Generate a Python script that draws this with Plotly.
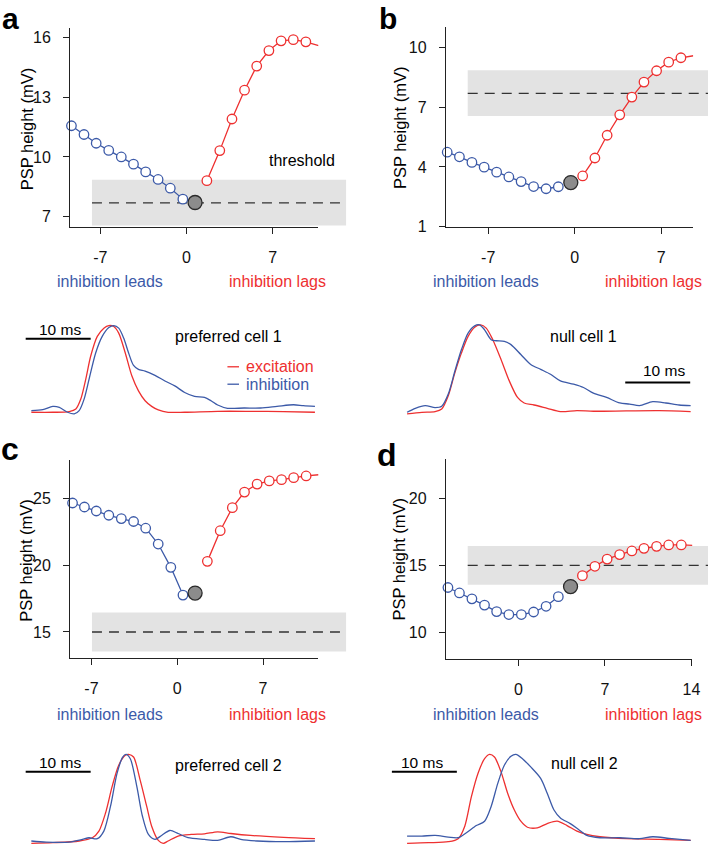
import plotly.graph_objects as go

W, H = 716, 853
def PX(x): return x / W
def PY(y): return 1 - y / H

BLUE = '#3c5aa8'
RED = '#ee3030'
FONT = 'Liberation Sans, Arial, sans-serif'

# ---------------- PSP height data (mV) vs delay (ms) ----------------
a_blue_x = [-9.35, -8.33, -7.34, -6.32, -5.30, -4.31, -3.32, -2.31, -1.32, -0.30]
a_blue_y = [11.57, 11.13, 10.69, 10.33, 10.00, 9.64, 9.25, 8.87, 8.43, 7.88]
a_red_x = [1.65, 2.70, 3.69, 4.71, 5.70, 6.69, 7.68, 8.67, 9.69, 10.73]
a_red_y = [8.81, 10.32, 11.91, 13.36, 14.57, 15.35, 15.84, 15.90, 15.79, 15.60]
a_gray_x, a_gray_y = [0.69], [7.71]

b_blue_x = [-10.32, -9.33, -8.32, -7.33, -6.32, -5.33, -4.34, -3.33, -2.32, -1.33]
b_blue_y = [4.74, 4.51, 4.23, 3.99, 3.74, 3.50, 3.27, 3.02, 2.91, 3.01]
b_red_x = [0.64, 1.63, 2.62, 3.64, 4.62, 5.60, 6.62, 7.60, 8.59, 9.60]
b_red_y = [3.55, 4.45, 5.59, 6.61, 7.50, 8.25, 8.82, 9.25, 9.47, 9.57]
b_gray_x, b_gray_y = [-0.32], [3.22]

c_blue_x = [-8.54, -7.57, -6.60, -5.58, -4.56, -3.56, -2.57, -1.55, -0.52, 0.47]
c_blue_y = [24.68, 24.38, 24.08, 23.76, 23.51, 23.29, 22.79, 21.60, 19.85, 17.77]
c_red_x = [2.46, 3.51, 4.50, 5.49, 6.52, 7.51, 8.51, 9.50, 10.52, 11.54]
c_red_y = [20.30, 22.60, 24.33, 25.50, 26.10, 26.34, 26.43, 26.58, 26.71, 26.80]
c_gray_x, c_gray_y = [1.46], [17.92]

d_blue_x = [-5.70, -4.77, -3.76, -2.74, -1.76, -0.77, 0.24, 1.23, 2.24, 3.23]
d_blue_y = [13.34, 12.93, 12.49, 12.02, 11.53, 11.31, 11.31, 11.50, 11.93, 12.65]
d_red_x = [5.18, 6.19, 7.18, 8.19, 9.18, 10.16, 11.18, 12.16, 13.18, 14.16]
d_red_y = [14.23, 14.93, 15.47, 15.81, 16.08, 16.28, 16.43, 16.53, 16.53, 16.50]
d_gray_x, d_gray_y = [4.22], [13.41]

# thresholds (mV): mean and band
thr_cell1, thr_cell1_lo, thr_cell1_hi = 7.69, 6.55, 8.85
thr_cell2, thr_cell2_lo, thr_cell2_hi = 15.0, 13.54, 16.46

xticks_abc = [-7, 0, 7]
xticks_d = [0, 7, 14]
yticks_a = [7, 10, 13, 16]
yticks_b = [1, 4, 7, 10]
yticks_c = [15, 20, 25]
yticks_d = [10, 15, 20]

# ---------------- normalized conductance traces (time in ms) ----------------
pa_exc_t = [1.78, 5.08, 7.61, 8.63, 9.39, 10.15, 10.91, 11.93, 12.94, 13.71, 14.47, 15.23, 16.24, 17.26,
            18.27, 19.29, 20.30, 21.32, 22.84, 25.38, 30.46, 35.53, 40.61, 45.43]
pa_exc_v = [0, 0, 0.008, 0.038, 0.152, 0.38, 0.646, 0.875, 0.97, 1.0, 0.989, 0.913, 0.684, 0.418,
            0.247, 0.133, 0.068, 0.027, 0, 0, 0.011, 0.011, 0.008, 0]
pa_inh_t = [1.78, 3.55, 5.08, 6.09, 7.36, 8.38, 9.14, 9.90, 10.66, 11.68, 12.69, 13.71, 14.47, 15.23,
            15.99, 16.75, 17.51, 18.27, 19.29, 20.81, 22.34, 23.86, 25.38, 26.90, 28.43, 29.44, 30.46,
            31.98, 34.52, 37.06, 39.59, 42.13, 43.65, 45.43]
pa_inh_v = [0.019, 0.03, 0.068, 0.057, 0, -0.019, 0.019, 0.152, 0.38, 0.684, 0.875, 0.977, 1.0, 0.97,
            0.856, 0.684, 0.54, 0.494, 0.475, 0.426, 0.361, 0.304, 0.228, 0.183, 0.171, 0.133, 0.084,
            0.046, 0.049, 0.049, 0.068, 0.087, 0.076, 0.068]

nb_exc_t = [1.78, 4.06, 6.09, 7.11, 8.12, 9.14, 10.15, 11.17, 12.18, 13.10, 13.96, 14.97, 16.24, 17.51,
            18.78, 19.80, 21.32, 23.35, 25.38, 27.92, 30.46, 35.53, 40.61, 45.43]
nb_exc_v = [-0.027, -0.008, 0, 0.03, 0.183, 0.449, 0.677, 0.867, 0.973, 1.0, 0.962, 0.829, 0.601, 0.354,
            0.163, 0.099, 0.076, 0.038, 0, 0.011, 0.004, 0.008, 0.011, 0]
nb_inh_t = [1.78, 3.05, 4.57, 6.09, 7.11, 8.12, 9.14, 10.15, 11.17, 12.18, 12.94, 13.71, 14.72, 15.48,
            16.75, 17.77, 19.29, 20.81, 22.34, 23.86, 25.38, 27.41, 28.93, 30.46, 32.49, 34.52, 36.04,
            37.56, 39.59, 41.62, 43.65, 45.43]
nb_inh_v = [-0.008, 0.038, 0.068, 0.046, 0.061, 0.202, 0.468, 0.715, 0.905, 0.989, 1.0, 0.943, 0.829,
            0.817, 0.81, 0.772, 0.658, 0.544, 0.487, 0.43, 0.354, 0.316, 0.278, 0.213, 0.163, 0.099,
            0.087, 0.068, 0.114, 0.099, 0.076, 0.068]

pc_exc_t = [1.78, 5.08, 9.14, 11.17, 12.18, 13.20, 14.21, 15.23, 16.24, 16.75, 17.51, 18.53, 19.54, 20.30,
            21.32, 22.08, 22.84, 24.37, 26.40, 28.43, 30.46, 32.49, 35.53, 40.61, 45.43]
pc_exc_v = [-0.007, 0, 0.019, 0.056, 0.131, 0.336, 0.634, 0.877, 0.989, 1.0, 0.97, 0.709, 0.41, 0.187,
            0.026, -0.007, 0.019, 0.075, 0.093, 0.1, 0.123, 0.104, 0.082, 0.06, 0.045]
pc_inh_t = [1.78, 4.06, 7.61, 9.64, 10.66, 11.93, 12.94, 13.96, 14.97, 15.84, 16.35, 17.01, 18.02, 18.88,
            19.80, 20.81, 21.83, 23.10, 24.37, 25.89, 28.43, 30.46, 32.49, 34.01, 36.55, 40.61, 45.43]
pc_inh_v = [0.019, 0.007, 0.007, 0.037, 0.056, 0.045, 0.131, 0.41, 0.784, 0.97, 1.0, 0.951, 0.634, 0.299,
            0.093, 0.037, 0.082, 0.138, 0.104, 0.056, 0.037, 0.026, 0.067, 0.037, 0.019, 0.011, 0.019]

nd_exc_t = [1.78, 5.08, 8.12, 9.64, 10.66, 11.68, 12.69, 13.71, 14.47, 15.23, 16.24, 17.26, 18.27, 19.29,
            20.30, 21.83, 23.35, 24.87, 26.40, 27.92, 29.44, 31.47, 35.53, 40.61, 45.43]
nd_exc_v = [-0.007, 0, 0.011, 0.045, 0.187, 0.522, 0.784, 0.951, 1.0, 0.97, 0.802, 0.56, 0.373, 0.243,
            0.175, 0.168, 0.216, 0.243, 0.194, 0.131, 0.093, 0.067, 0.045, 0.037, 0.026]
nd_inh_t = [1.78, 4.06, 6.09, 8.12, 9.64, 10.91, 12.44, 13.71, 14.72, 15.74, 16.75, 17.77, 18.53, 19.54,
            20.81, 22.34, 23.35, 24.37, 25.38, 26.90, 28.17, 29.44, 31.47, 34.52, 37.56, 39.59, 42.13, 45.43]
nd_inh_v = [0.075, 0.075, 0.082, 0.063, 0.056, 0.112, 0.194, 0.243, 0.41, 0.672, 0.877, 0.978, 1.0, 0.951,
            0.858, 0.728, 0.56, 0.373, 0.28, 0.216, 0.149, 0.082, 0.056, 0.056, 0.045, 0.067, 0.049, 0.026]

scale_ms = 10

fig = go.Figure()

panels = [
    dict(bx=a_blue_x, by=a_blue_y, rx=a_red_x, ry=a_red_y, gx=a_gray_x, gy=a_gray_y,
         xdom=(71, 322), ydom=(28, 229), xr=(-9.45, 10.71), yr=(6.5, 16.5),
         xt=xticks_abc, yt=yticks_a, bandpx=(93, 350), thr=(thr_cell1, thr_cell1_lo, thr_cell1_hi)),
    dict(bx=b_blue_x, by=b_blue_y, rx=b_red_x, ry=b_red_y, gx=b_gray_x, gy=b_gray_y,
         xdom=(451, 701), ydom=(27.5, 229.3), xr=(-10.42, 9.58), yr=(1, 11),
         xt=xticks_abc, yt=yticks_b, bandpx=(473, 716), thr=(thr_cell1, thr_cell1_lo, thr_cell1_hi)),
    dict(bx=c_blue_x, by=c_blue_y, rx=c_red_x, ry=c_red_y, gx=c_gray_x, gy=c_gray_y,
         xdom=(71, 322), ydom=(465, 665), xr=(-8.73, 11.52), yr=(13.05, 27.9),
         xt=xticks_abc, yt=yticks_c, bandpx=(93, 350), thr=(thr_cell2, thr_cell2_lo, thr_cell2_hi)),
    dict(bx=d_blue_x, by=d_blue_y, rx=d_red_x, ry=d_red_y, gx=d_gray_x, gy=d_gray_y,
         xdom=(451, 700), ydom=(464.3, 665.7), xr=(-5.86, 14.06), yr=(8.0, 22.95),
         xt=xticks_d, yt=yticks_d, bandpx=(473, 716), thr=(thr_cell2, thr_cell2_lo, thr_cell2_hi)),
]

shapes = []
annotations = []
layout_axes = {}

for i, p in enumerate(panels):
    n = '' if i == 0 else str(i + 1)
    xa, ya = 'x' + n, 'y' + n
    for xs, ys, col in [(p['bx'], p['by'], BLUE), (p['rx'], p['ry'], RED)]:
        fig.add_trace(go.Scatter(x=xs, y=ys, xaxis=xa, yaxis=ya, mode='lines+markers',
                                 line=dict(color=col, width=1.3),
                                 marker=dict(symbol='circle', size=9.5, color='white',
                                             line=dict(color=col, width=1.3)),
                                 cliponaxis=False, showlegend=False, hoverinfo='skip'))
    fig.add_trace(go.Scatter(x=p['gx'], y=p['gy'], xaxis=xa, yaxis=ya, mode='markers',
                             marker=dict(size=14, color='#8c8c8c', line=dict(color='#2a2a2a', width=1.3)),
                             cliponaxis=False, showlegend=False, hoverinfo='skip'))
    thr, lo, hi = p['thr']
    shapes.append(dict(type='rect', xref='paper', yref=ya, x0=PX(p['bandpx'][0]), x1=PX(p['bandpx'][1]),
                       y0=lo, y1=hi, fillcolor='#e3e3e3', line=dict(width=0), layer='below'))
    shapes.append(dict(type='line', xref='paper', yref=ya, x0=PX(p['bandpx'][0]), x1=PX(p['bandpx'][1]),
                       y0=thr, y1=thr, line=dict(color='#333333', width=1.3, dash='10px,7px'), layer='below'))
    axstyle = dict(showline=True, linecolor='#222', linewidth=1.3, ticks='outside', ticklen=6,
                   tickwidth=1.3, tickcolor='#222', showgrid=False, zeroline=False,
                   tickfont=dict(family=FONT, size=16, color='#111'))
    layout_axes['xaxis' + n] = dict(axstyle, domain=[PX(p['xdom'][0]), PX(p['xdom'][1])],
                                    range=list(p['xr']), tickvals=p['xt'],
                                    ticktext=[str(v) for v in p['xt']], anchor=ya,
                                    ticklabelstandoff=10)
    layout_axes['yaxis' + n] = dict(axstyle, domain=[PY(p['ydom'][1]), PY(p['ydom'][0])],
                                    range=list(p['yr']), tickvals=p['yt'],
                                    ticktext=[str(v) for v in p['yt']], anchor=xa,
                                    ticklabelstandoff=9)

# ---------------- trace panels ----------------
trace_panels = [
    dict(exc=(pa_exc_t, pa_exc_v), inh=(pa_inh_t, pa_inh_v), xdom=(20, 330), xr=(0, 47.18),
         ydom=(320, 425), yr=(-0.095, 1.103), bar=(0.91, 0.848), bar_text=(60.7, 332.7)),
    dict(exc=(nb_exc_t, nb_exc_v), inh=(nb_inh_t, nb_inh_v), xdom=(400, 716), xr=(0, 48.1),
         ydom=(320, 425), yr=(-0.103, 1.095), bar=(35.36, 0.334), bar_text=(671.7, 374)),
    dict(exc=(pc_exc_t, pc_exc_v), inh=(pc_inh_t, pc_inh_v), xdom=(20, 330), xr=(0, 47.18),
         ydom=(755, 853), yr=(-0.015, 1.083), bar=(0.91, 0.803), bar_text=(60.7, 771)),
    dict(exc=(nd_exc_t, nd_exc_v), inh=(nd_inh_t, nd_inh_v), xdom=(395, 716), xr=(-0.76, 48.1),
         ydom=(755, 853), yr=(-0.015, 1.083), bar=(-0.56, 0.803), bar_text=(426.3, 771)),
]
for j, tp in enumerate(trace_panels):
    k = str(j + 5)
    xa, ya = 'x' + k, 'y' + k
    for (ts, vs), col in [(tp['exc'], RED), (tp['inh'], BLUE)]:
        fig.add_trace(go.Scatter(x=ts, y=vs, xaxis=xa, yaxis=ya, mode='lines',
                                 line=dict(color=col, width=1.3, shape='spline', smoothing=0.8),
                                 showlegend=False, hoverinfo='skip'))
    hidden = dict(visible=False, showgrid=False, zeroline=False)
    layout_axes['xaxis' + k] = dict(hidden, domain=[PX(tp['xdom'][0]), PX(tp['xdom'][1])],
                                    range=list(tp['xr']), anchor=ya)
    layout_axes['yaxis' + k] = dict(hidden, domain=[PY(tp['ydom'][1]), PY(tp['ydom'][0])],
                                    range=list(tp['yr']), anchor=xa)
    bx, by = tp['bar']
    shapes.append(dict(type='line', xref=xa, yref=ya, x0=bx, x1=bx + scale_ms, y0=by, y1=by,
                       line=dict(color='black', width=2)))
    annotations.append(dict(text=f'{scale_ms} ms', x=PX(tp['bar_text'][0]), y=PY(tp['bar_text'][1]),
                            xref='paper', yref='paper', showarrow=False, xanchor='center', yanchor='middle',
                            font=dict(family=FONT, size=15.5, color='black')))

def txt(s, x, y, color='black', size=16, xanchor='center', yanchor='middle', bold=False, angle=0):
    annotations.append(dict(text=f'<b>{s}</b>' if bold else s, x=PX(x), y=PY(y), xref='paper', yref='paper',
                            showarrow=False, xanchor=xanchor, yanchor=yanchor, textangle=angle,
                            font=dict(family=FONT, size=size, color=color)))

# panel letters
txt('a', 0, 0, size=30, xanchor='left', yanchor='top', bold=True)
txt('b', 381, 0, size=30, xanchor='left', yanchor='top', bold=True)
txt('c', -1, 454, size=32, xanchor='left', bold=True)
txt('d', 379, 460, size=32, xanchor='left', bold=True)

# y titles
for (x, y) in [(27, 130), (404, 129), (26, 566), (404, 565)]:
    txt('PSP height (mV)', x, y, angle=-90, size=16.5)

# lead / lag labels
for (xl, xr, y) in [(111.5, 280.5, 285), (491.5, 660.5, 285), (111.5, 280.5, 721.7), (491.5, 660.5, 721.7)]:
    txt('inhibition leads', xl, y, color=BLUE)
    txt('inhibition lags', xr, y, color=RED)

txt('threshold', 305.7, 162.7)
txt('preferred cell 1', 230.7, 340)
txt('null cell 1', 590, 340)
txt('preferred cell 2', 231.3, 773.3)
txt('null cell 2', 590.7, 771.7)

# legend for trace panel a
shapes.append(dict(type='line', xref='paper', yref='paper', x0=PX(230), x1=PX(241.7),
                   y0=PY(370.7), y1=PY(370.7), line=dict(color=RED, width=1.3)))
shapes.append(dict(type='line', xref='paper', yref='paper', x0=PX(230), x1=PX(241.7),
                   y0=PY(388.3), y1=PY(388.3), line=dict(color=BLUE, width=1.3)))
txt('excitation', 247, 370.7, color=RED, xanchor='left')
txt('inhibition', 247, 388.3, color=BLUE, xanchor='left')

fig.update_layout(width=W, height=H, margin=dict(l=0, r=0, t=0, b=0),
                  paper_bgcolor='white', plot_bgcolor='rgba(0,0,0,0)',
                  shapes=shapes, annotations=annotations, showlegend=False,
                  font=dict(family=FONT), **layout_axes)

fig.write_html('out.html', config={'displayModeBar': False},
               post_script="document.body.style.margin='0px';document.body.style.padding='0px';")
